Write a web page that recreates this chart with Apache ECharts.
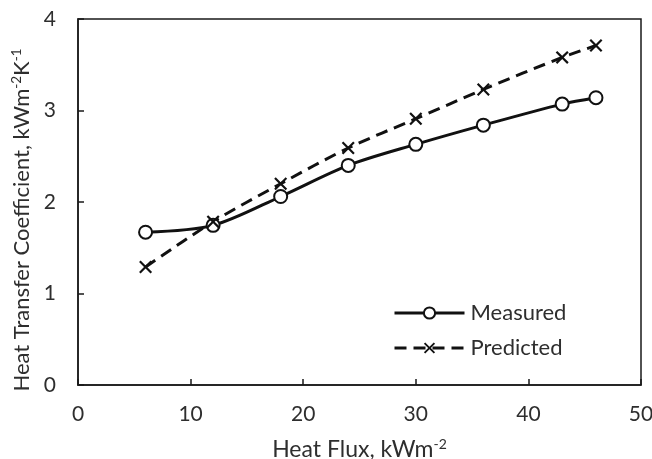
<!DOCTYPE html>
<html><head><meta charset="utf-8">
<script src="https://cdn.jsdelivr.net/npm/echarts@6/dist/echarts.min.js"></script>
<style>html,body{margin:0;padding:0;background:#fff}#c{width:652px;height:459px}</style>
</head><body><div id="c"></div>
<script>
const heatFlux = [6, 12, 18, 24, 30, 36, 43, 46];
const measured = [1.67, 1.745, 2.06, 2.40, 2.63, 2.84, 3.07, 3.14];
const predicted = [1.29, 1.785, 2.20, 2.59, 2.91, 3.23, 3.58, 3.71];
const xTicks = [0, 10, 20, 30, 40, 50];
const yTicks = [0, 1, 2, 3, 4];

const FONT = 'Lato';
const TXT = '#2e2e2e';
const FS = 21;
const chart = echarts.init(document.getElementById('c'), null, {renderer: 'canvas'});
const crossPath = 'path://M0,1.2 L1.2,0 L5,3.8 L8.8,0 L10,1.2 L6.2,5 L10,8.8 L8.8,10 L5,6.2 L1.2,10 L0,8.8 L3.8,5 Z';
const richX = {
  a: {fontFamily: FONT, fontSize: 23, color: TXT, lineHeight: 26},
  s: {fontFamily: FONT, fontSize: 14, color: TXT, verticalAlign: 'top', lineHeight: 26}
};
const richY = {
  a: {fontFamily: FONT, fontSize: 22, color: TXT, lineHeight: 25},
  s: {fontFamily: FONT, fontSize: 13.5, color: TXT, verticalAlign: 'top', lineHeight: 25}
};
chart.setOption({
  animation: false,
  grid: {left: 78, right: 11, top: 19, bottom: 74, show: true, borderColor: '#1a1a1a', borderWidth: 1.5, containLabel: false, outerBoundsMode: 'none'},
  legend: {
    orient: 'vertical', left: 393, top: 302, padding: 0, itemWidth: 70, itemHeight: 14, itemGap: 13,
    lineStyle: {width: 3},
    textStyle: {fontFamily: FONT, fontSize: 22, color: TXT, padding: [0, 0, 0, 1]},
    data: ['Measured', 'Predicted']
  },
  xAxis: {
    type: 'value', min: xTicks[0], max: xTicks[xTicks.length - 1], interval: 10,
    name: '{a|Heat Flux, kWm}{s|-2}', nameLocation: 'middle', nameGap: 52,
    nameTextStyle: {rich: richX},
    axisLine: {lineStyle: {color: '#1a1a1a', width: 1.5}},
    axisTick: {inside: true, length: 6, lineStyle: {color: '#1a1a1a', width: 1.5}},
    axisLabel: {fontFamily: FONT, fontSize: FS, color: TXT, margin: 19},
    splitLine: {show: false}
  },
  yAxis: {
    type: 'value', min: yTicks[0], max: yTicks[yTicks.length - 1], interval: 1,
    name: '{a|Heat Transfer Coefficient, kWm}{s|-2}{a|K}{s|-1}', nameLocation: 'middle', nameGap: 43, nameRotate: 90,
    nameTextStyle: {rich: richY, padding: [0, 36, 0, 0]},
    axisLine: {lineStyle: {color: '#1a1a1a', width: 1.5}},
    axisTick: {inside: true, length: 6, lineStyle: {color: '#1a1a1a', width: 1.5}},
    axisLabel: {fontFamily: FONT, fontSize: FS, color: TXT, margin: 22},
    splitLine: {show: false}
  },
  series: [
    {
      name: 'Measured', type: 'line', smooth: 0.3,
      data: heatFlux.map((x, i) => [x, measured[i]]),
      symbol: 'emptyCircle', symbolSize: 13, showSymbol: true,
      lineStyle: {color: '#111', width: 3, type: 'solid'},
      itemStyle: {color: '#111', borderColor: '#111', borderWidth: 1.5}
    },
    {
      name: 'Predicted', type: 'line', smooth: 0.3,
      data: heatFlux.map((x, i) => [x, predicted[i]]),
      symbol: crossPath, symbolSize: 13, showSymbol: true,
      lineStyle: {color: '#111', width: 3, type: [12, 7]},
      itemStyle: {color: '#111', borderWidth: 0}
    }
  ]
});
</script></body></html>
